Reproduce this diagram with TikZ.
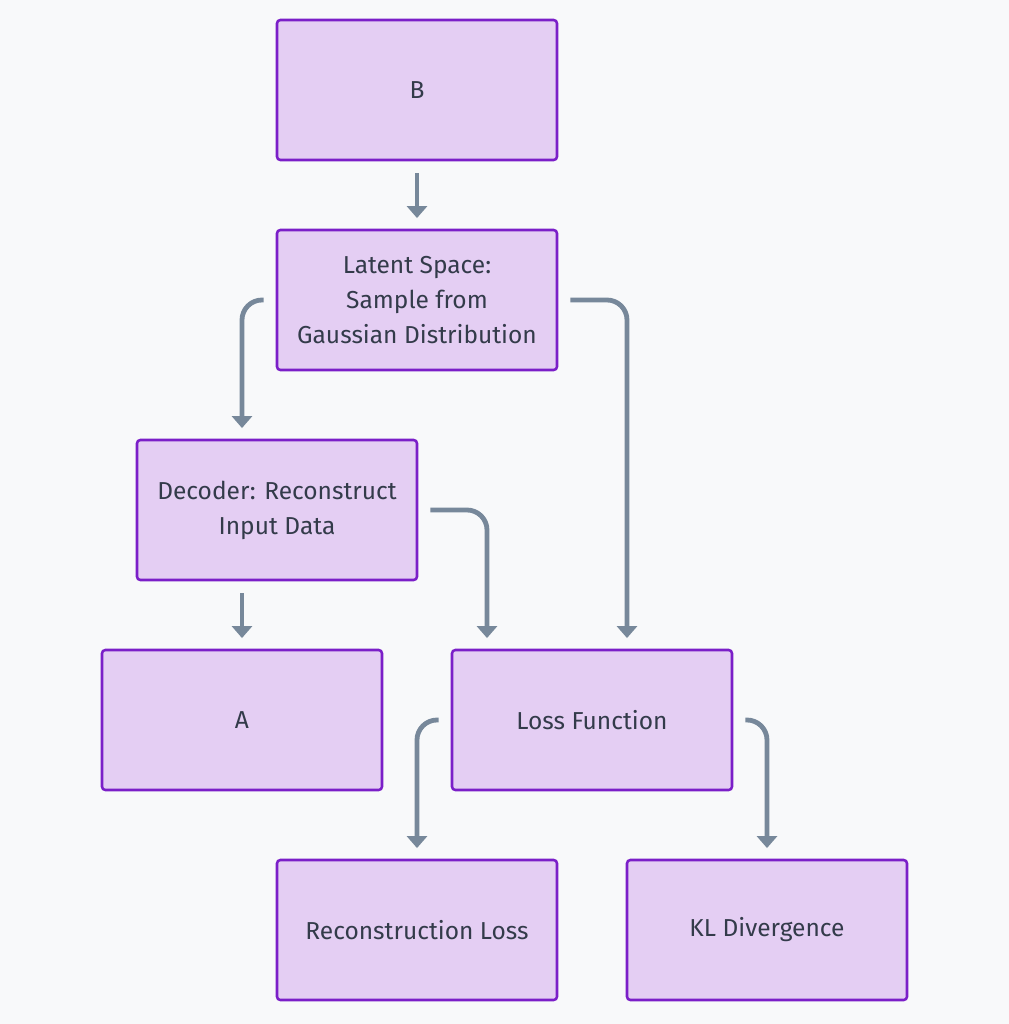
\documentclass[tikz,border=0pt]{standalone}
\usepackage{fontspec}
\setmainfont{Fira Sans}
\usetikzlibrary{positioning,calc,arrows.meta}
\definecolor{boxfill}{HTML}{E4CEF3}
\definecolor{boxline}{HTML}{7B1FC8}
\definecolor{flowgray}{HTML}{77889A}
\definecolor{textdark}{HTML}{333B4A}
\definecolor{pagebg}{HTML}{F8F9FA}

\begin{document}
\begin{tikzpicture}[x=0.75pt, y=-0.75pt,
    main/.style = {draw=boxline, line width=1.9pt, fill=boxfill, rounded corners=2.5pt,
        minimum width=210pt, minimum height=105pt, align=center,
        text=textdark, font=\fontsize{18.4}{26.2}\selectfont},
    flow/.style = {draw=flowgray, line width=3.6pt, rounded corners=15pt,
        shorten <=9pt, shorten >=8pt,
        -{Triangle[width=15pt,length=9pt]}}]
            \fill[pagebg] (0,0) rectangle (1009,1024);
            \useasboundingbox (0,0) rectangle (1009,1024);
            % Nodes
            \node[main] (b) at (417,90) {B};
            \node[main] (lat) at (417,300) {Latent Space:\\Sample from\\Gaussian Distribution};
            \node[main] (dec) at (277,510) {Decoder: Reconstruct\\Input Data};
            \node[main] (a) at (242,720) {A};
            \node[main] (loss) at (592,720) {Loss Function};
            \node[main] (rec) at (417,930) {Reconstruction Loss};
            \node[main] (kl) at (767,930) {KL Divergence};
            % Edges
            \draw[flow] (b) -- (lat);
            \draw[flow] (lat.west) -| ($(dec.north)+(-35,0)$);
            \draw[flow] (lat.east) -| ($(loss.north)+(35,0)$);
            \draw[flow] (dec.east) -| ($(loss.north)+(-105,0)$);
            \draw[flow] (dec.south -| a.north) -- (a.north);
            \draw[flow] (loss.west) -| (rec.north);
            \draw[flow] (loss.east) -| (kl.north);
\end{tikzpicture}
\end{document}
